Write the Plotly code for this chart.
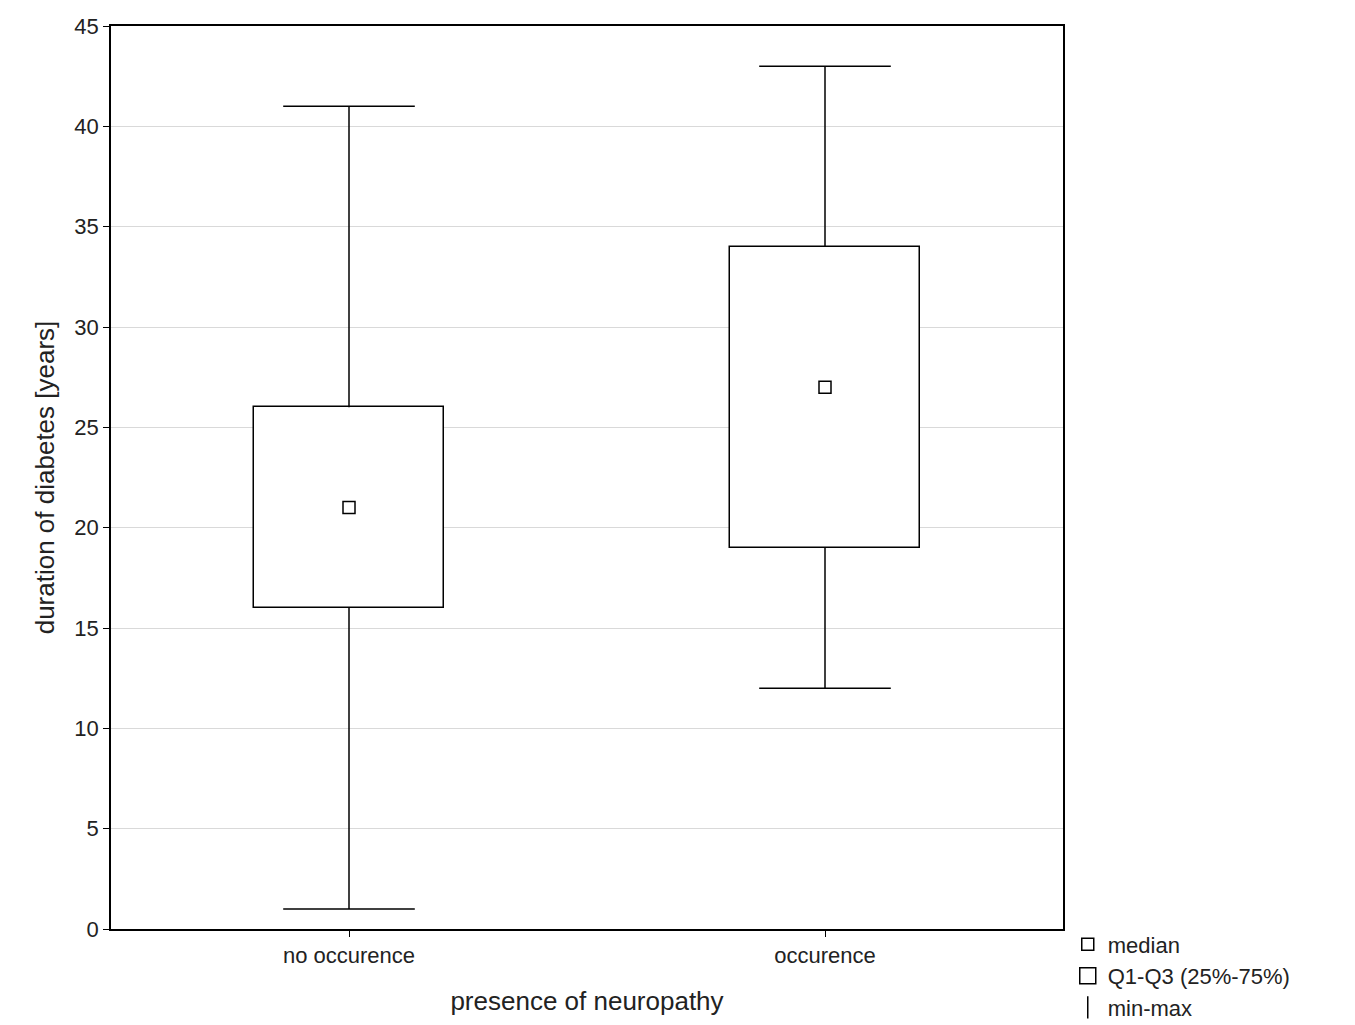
import plotly.graph_objects as go

groups = ["no occurence", "occurence"]
minimum = [1, 12]
q1 = [16, 19]
median = [21, 27]
q3 = [26, 34]
maximum = [41, 43]

fig = go.Figure()

# whisker segments (q3 -> max and min -> q1), drawn as line segments separated by None
wx, wy = [], []
for g, lo, a, b, hi in zip(groups, minimum, q1, q3, maximum):
    wx += [g, g, None, g, g, None]
    wy += [b, hi, None, lo, a, None]
fig.add_trace(go.Scatter(x=wx, y=wy, mode="lines", line=dict(color="black", width=1.5),
                         showlegend=False, hoverinfo="skip"))

# caps at min and max
fig.add_trace(go.Scatter(x=groups + groups, y=minimum + maximum, mode="markers",
                         marker=dict(symbol="line-ew", size=94, line=dict(color="black", width=1.5)),
                         showlegend=False, hoverinfo="skip"))

# Q1-Q3 box
fig.add_trace(go.Bar(x=groups, y=[b - a for a, b in zip(q1, q3)], base=q1, width=0.4,
                     marker=dict(color="white", line=dict(color="black", width=1.5)),
                     name="Q1-Q3 (25%-75%)", showlegend=False))

fig.add_trace(go.Scatter(x=groups, y=median, mode="markers",
                         marker=dict(symbol="square-open", size=12, color="black", line=dict(width=1.5)),
                         showlegend=False))

# legend entries
fig.add_trace(go.Scatter(x=[None], y=[None], mode="markers", name="median",
                         marker=dict(symbol="square-open", size=12, color="black", line=dict(width=1.5))))
fig.add_trace(go.Scatter(x=[None], y=[None], mode="markers", name="Q1-Q3 (25%-75%)",
                         marker=dict(symbol="square-open", size=26, color="black", line=dict(width=1.5))))
fig.add_trace(go.Scatter(x=[None], y=[None], mode="markers", name="min-max",
                         marker=dict(symbol="line-ns", size=28, line=dict(color="black", width=1.5))))

axis_font = dict(family="Liberation Sans, Arial", size=22, color="#222")
fig.update_layout(
    width=1355, height=1025, plot_bgcolor="white", paper_bgcolor="white",
    margin=dict(l=103, r=300, t=18, b=104, autoexpand=False),
    font=axis_font, bargap=0,
    legend=dict(x=1.005, y=-0.11, xanchor="left", yanchor="bottom", tracegroupgap=0,
                font=dict(size=22), itemsizing="trace"),
)
fig.update_xaxes(range=[-0.5, 1.5], showline=True, linecolor="black", linewidth=1.5, mirror=True,
                 ticks="outside", ticklen=6, tickcolor="black", tickfont=dict(size=22),
                 automargin=False, title=dict(text="presence of neuropathy", standoff=25))
fig.update_yaxes(range=[0, 45], dtick=5, showline=True, linecolor="black", linewidth=1.5, mirror=True,
                 ticks="outside", ticklen=6, tickcolor="black", gridcolor="#d9d9d9", zeroline=False,
                 tickfont=dict(size=22), automargin=False,
                 title=dict(text="duration of diabetes [years]", standoff=12))

fig.write_html("out.html")
